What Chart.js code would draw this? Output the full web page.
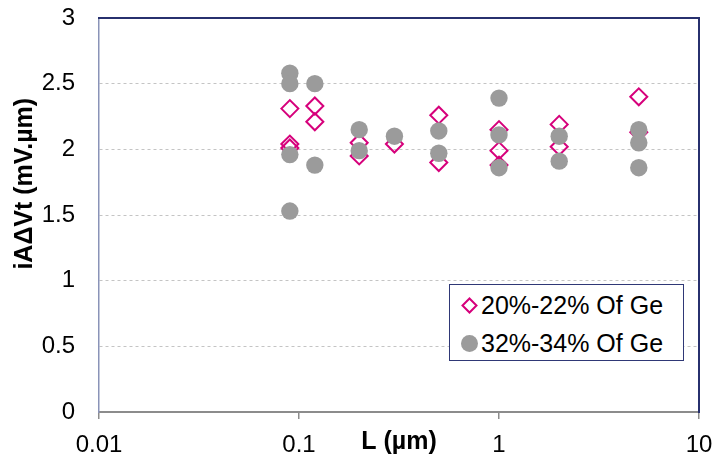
<!doctype html>
<html lang="en">

<head>
    <meta charset="UTF-8" />
    <title>iAΔVt vs L</title>
    <script src="https://cdn.jsdelivr.net/npm/chart.js"></script>
    <style>
        body { margin: 0; background: #fff; }
        .wrap { position: relative; width: 715px; height: 462px; }
        .legend {
            position: absolute; left: 449px; top: 284px; width: 233px; height: 75px;
            border: 1.5px solid #2f3876; background: #fff;
            font: 25px "Liberation Sans", Arial, sans-serif; color: #000;
        }
        .legend-row { display: flex; align-items: center; height: 38px; padding-left: 11px; }
        .legend-row:first-child { margin-top: 1px; }
        .mark { width: 17px; height: 17px; margin-right: 3px; flex: none; }
    </style>
</head>

<body>
    <div class="wrap">
        <canvas id="chart" width="715" height="462"></canvas>
        <div class="legend" id="legend"></div>
    </div>

    <script>
        // L (µm) and iAΔVt (mV.µm)
        const lowGeL = [0.09, 0.09, 0.09, 0.12, 0.12, 0.2, 0.2, 0.3, 0.5, 0.5, 1, 1, 1, 2, 2, 5, 5];
        const lowGeVals = [2.31, 2.04, 2.01, 2.33, 2.21, 2.05, 1.95, 2.04, 2.26, 1.90, 2.15, 1.99, 1.88, 2.19, 2.02, 2.40, 2.13];

        const highGeL = [0.09, 0.09, 0.09, 0.09, 0.12, 0.12, 0.2, 0.2, 0.3, 0.5, 0.5, 1, 1, 1, 2, 2, 5, 5, 5];
        const highGeVals = [2.58, 2.50, 1.96, 1.53, 2.50, 1.88, 2.15, 1.99, 2.10, 2.14, 1.97, 2.39, 2.11, 1.86, 2.10, 1.91, 2.15, 2.05, 1.86];

        const seriesNames = ["20%-22% Of Ge", "32%-34% Of Ge"];
        const xTicks = [0.01, 0.1, 1, 10];
        const xTickLabels = ["0.01", "0.1", "1", "10"];
        const yTickLabels = ["0", "0.5", "1", "1.5", "2", "2.5", "3"];

        const FONT = '"Liberation Sans", Arial, sans-serif';
        const PINK = "#d6007b";
        const GRAY = "#9b9b9b";
        const NAVY = "#27306e";

        const toPoints = (xs, ys) => xs.map((x, i) => ({ x, y: ys[i] }));
        const noPad = (s) => { s.paddingLeft = 0; s.paddingRight = 0; s.paddingTop = 0; s.paddingBottom = 0; };

        const chart = new Chart(document.getElementById("chart"), {
            type: "scatter",
            data: {
                datasets: [
                    {
                        label: seriesNames[0],
                        data: toPoints(lowGeL, lowGeVals),
                        pointStyle: "rectRot",
                        pointRadius: 8.5,
                        pointBorderWidth: 2,
                        borderColor: PINK,
                        backgroundColor: "rgba(0,0,0,0)",
                        order: 1,
                    },
                    {
                        label: seriesNames[1],
                        data: toPoints(highGeL, highGeVals),
                        pointStyle: "circle",
                        pointRadius: 8.7,
                        pointBorderWidth: 0,
                        borderColor: GRAY,
                        backgroundColor: GRAY,
                        order: 0,
                    },
                ],
            },
            options: {
                responsive: false,
                animation: false,
                devicePixelRatio: 1,
                layout: { padding: 0 },
                plugins: { legend: { display: false }, tooltip: { enabled: false } },
                scales: {
                    x: {
                        type: "logarithmic",
                        position: "bottom",
                        min: 0.01,
                        max: 10,
                        afterBuildTicks: (s) => { s.ticks = xTicks.map((v) => ({ value: v })); },
                        afterFit: (s) => { s.height = 50; noPad(s); },
                        ticks: {
                            callback: (v, i) => xTickLabels[i],
                            autoSkip: false,
                            maxRotation: 0,
                            padding: 12,
                            color: "#000",
                            font: { family: FONT, size: 24 },
                        },
                        grid: { drawOnChartArea: false, tickLength: 7, color: "#8c8c8c", lineWidth: 1.5 },
                        border: { color: "#8c8c8c", width: 2 },
                        title: {
                            display: true,
                            text: "L (µm)",
                            color: "#000",
                            font: { family: FONT, size: 25, weight: "bold" },
                            padding: { top: 0, bottom: 5 },
                        },
                    },
                    y: {
                        position: "left",
                        min: 0,
                        max: 3,
                        afterFit: (s) => { s.width = 99; noPad(s); },
                        ticks: {
                            stepSize: 0.5,
                            callback: (v, i) => yTickLabels[i],
                            padding: 24,
                            color: "#000",
                            font: { family: FONT, size: 24 },
                        },
                        grid: { color: "#c4c4c4", drawTicks: false, lineWidth: 1 },
                        border: { color: "#8a93b8", width: 1.5, dash: [3, 3] },
                        title: {
                            display: true,
                            text: "         iAΔVt (mV.µm)",
                            color: "#000",
                            font: { family: FONT, size: 25, weight: "bold" },
                            padding: { top: 10, bottom: 0 },
                        },
                    },
                    x2: {
                        type: "logarithmic",
                        position: "top",
                        min: 0.01,
                        max: 10,
                        afterFit: (s) => { s.height = 18; noPad(s); },
                        ticks: { display: false },
                        grid: { display: false },
                        border: { color: NAVY, width: 2 },
                    },
                    y2: {
                        position: "right",
                        min: 0,
                        max: 3,
                        afterFit: (s) => { s.width = 16; noPad(s); },
                        ticks: { display: false },
                        grid: { display: false },
                        border: { color: NAVY, width: 2 },
                    },
                },
            },
        });

        function markerSvg(ds) {
            if (ds.pointStyle === "rectRot") {
                return `<svg class="mark" viewBox="0 0 17 17"><path d="M8.5 1.5 L15.5 8.5 L8.5 15.5 L1.5 8.5 Z" fill="none" stroke="${ds.borderColor}" stroke-width="2"/></svg>`;
            }
            return `<svg class="mark" viewBox="0 0 17 17"><circle cx="8.5" cy="8.5" r="8.5" fill="${ds.backgroundColor}"/></svg>`;
        }

        document.getElementById("legend").innerHTML = chart.data.datasets
            .map((ds) => `<div class="legend-row">${markerSvg(ds)}<span>${ds.label}</span></div>`)
            .join("");
    </script>
</body>

</html>
